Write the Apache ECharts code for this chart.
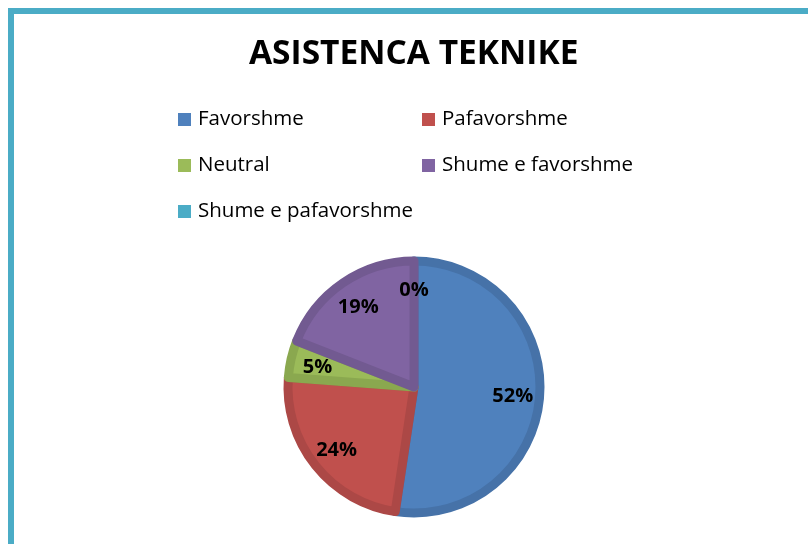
<!DOCTYPE html>
<html>
<head>
<meta charset="utf-8">
<script src="https://cdn.jsdelivr.net/npm/echarts@6/dist/echarts.min.js"></script>
<style>html,body{margin:0;padding:0;background:#fff}#c{width:808px;height:544px}</style>
</head>
<body>
<div id="c"></div>
<script>
var titleText = 'ASISTENCA TEKNIKE';
var categories = ['Favorshme', 'Pafavorshme', 'Neutral', 'Shume e favorshme', 'Shume e pafavorshme'];
var counts = [11, 5, 1, 4, 0];
var fillColors = ['#4F81BD', '#C0504D', '#9BBB59', '#8064A2', '#4BACC6'];
var bandColors = ['#4672A8', '#AC4846', '#8AA84F', '#725A91', '#439AB1'];

var chart = echarts.init(document.getElementById('c'));
var data = categories.map(function (n, i) {
  return { name: n, value: counts[i],
    itemStyle: { color: fillColors[i], borderColor: bandColors[i], borderWidth: counts[i] > 0 ? 9 : 0 } };
});
var labelData = categories.map(function (n, i) {
  return { name: n, value: counts[i] };
});
var legendText = { fontFamily: 'Open Sans', fontSize: 20.5, color: '#000', padding: [0, 0, 0, 2] };
var legendCommon = { orient: 'vertical', top: 109, itemWidth: 13, itemHeight: 13, itemGap: 25,
  icon: 'rect', textStyle: legendText, padding: 0, itemStyle: { borderWidth: 0 } };
chart.setOption({
  animation: false,
  title: {
    text: titleText, left: 244, top: 32,
    textStyle: { fontFamily: 'Open Sans', fontWeight: 'bold', fontSize: 33.5, color: '#000' }
  },
  graphic: [{
    type: 'rect', left: 8, top: 8, silent: true,
    shape: { width: 1000, height: 800 },
    style: { fill: 'none', stroke: '#4BACC6', lineWidth: 6 }
  }],
  legend: [
    Object.assign({ data: ['Favorshme', 'Neutral', 'Shume e pafavorshme'], left: 178 }, legendCommon),
    Object.assign({ data: ['Pafavorshme', 'Shume e favorshme'], left: 422 }, legendCommon)
  ],
  series: [{
    type: 'pie', center: [414, 387], radius: 126, startAngle: 90, clockwise: true,
    avoidLabelOverlap: false, stillShowZeroSum: true,
    label: { show: false }, labelLine: { show: false },
    emphasis: { disabled: true },
    data: data
  }, {
    type: 'pie', center: [414, 389], radius: [62, 130], startAngle: 90, clockwise: true,
    silent: true, avoidLabelOverlap: false, legendHoverLink: false,
    itemStyle: { color: 'rgba(0,0,0,0)' },
    label: { show: true, position: 'inside', formatter: function (p) { return Math.round(p.percent) + '%'; },
      fontFamily: 'Open Sans', fontWeight: 'bold', fontSize: 20, color: '#000' },
    labelLine: { show: false },
    data: labelData
  }]
});
</script>
</body>
</html>
